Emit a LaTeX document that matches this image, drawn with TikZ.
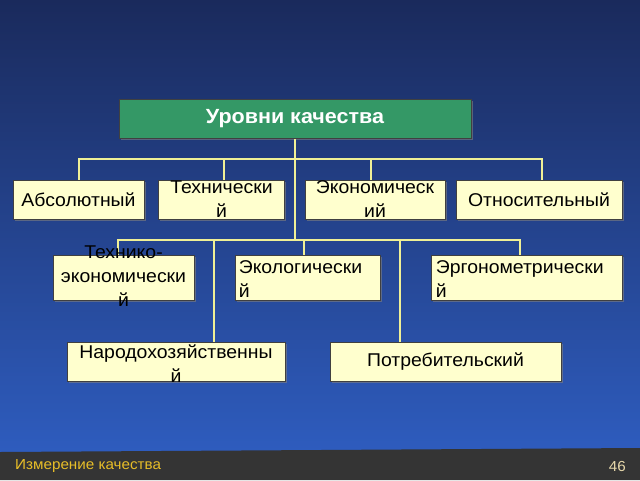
\documentclass[tikz,border=0pt]{standalone}
\usepackage{fontspec}
\setmainfont{Liberation Sans}[FakeStretch=1.05]
\usetikzlibrary{shadows}
\definecolor{bgtop}{RGB}{26,42,92}
\definecolor{bgmid}{RGB}{32,62,130}
\definecolor{bgbot}{RGB}{46,92,190}
\definecolor{footgray}{RGB}{52,52,52}
\definecolor{footyellow}{RGB}{232,190,40}
\definecolor{footnum}{RGB}{230,215,170}
\definecolor{boxfill}{RGB}{255,255,206}
\definecolor{topfill}{RGB}{52,152,102}
\definecolor{connyellow}{RGB}{240,240,150}
\tikzset{
  box/.style={draw=black!75, line width=0.8pt, fill=boxfill, inner sep=0pt,
    drop shadow={shadow xshift=1.5pt, shadow yshift=-1.5pt, opacity=0.6}},
  topbox/.style={draw=black!75, line width=0.8pt, fill=topfill, inner sep=0pt,
    drop shadow={shadow xshift=1.5pt, shadow yshift=-1.5pt, opacity=0.6}},
  txt/.style={font=\fontsize{18.5}{24}\selectfont, text=black, inner sep=0pt},
  conn/.style={draw=connyellow, line width=2.2pt}
}
\begin{document}
\begin{tikzpicture}[x=1pt,y=-1pt]
\useasboundingbox (0,0) rectangle (640,480);
\shade[top color=bgtop, middle color=bgmid, bottom color=bgbot] (0,0) rectangle (640,452);
\fill[footgray] (0,452) -- (640,448) -- (640,480) -- (0,480) -- cycle;

% junction coordinates
\coordinate (h1) at (295,159);
\coordinate (h2) at (295,240);

% boxes
\node[topbox, minimum width=352pt, minimum height=39pt] (top) at (295,119) {};
\node[box, minimum width=131pt, minimum height=39pt] (abs) at (78.5,199.5) {};
\node[box, minimum width=126pt, minimum height=39pt] (tech) at (221.5,199.5) {};
\node[box, minimum width=140pt, minimum height=39pt] (econ) at (375,199.5) {};
\node[box, minimum width=166pt, minimum height=39pt] (rel) at (539,199.5) {};
\node[box, minimum width=141pt, minimum height=45pt] (te) at (123.5,277.5) {};
\node[box, minimum width=145pt, minimum height=45pt] (eco) at (307.5,277.5) {};
\node[box, minimum width=191pt, minimum height=45pt] (erg) at (526.5,277.5) {};
\node[box, minimum width=218pt, minimum height=39pt] (nar) at (176,361.5) {};
\node[box, minimum width=231pt, minimum height=39pt] (potr) at (445.5,361.5) {};

% connectors
\draw[conn] (top.south) -- (h2);
\draw[conn] ([xshift=0.5pt]abs.north) |- (h1) -| ([xshift=3pt]rel.north);
\draw[conn] ([xshift=2.5pt]tech.north) -- ([xshift=2.5pt]tech.north |- h1);
\draw[conn] ([xshift=-4pt]econ.north) -- ([xshift=-4pt]econ.north |- h1);
\draw[conn] ([xshift=-5.5pt]te.north) |- (h2) -| ([xshift=-6.5pt]erg.north);
\draw[conn] ([xshift=-3.5pt]eco.north) -- ([xshift=-3.5pt]eco.north |- h2);
\draw[conn] ([xshift=38pt]nar.north) -- ([xshift=38pt]nar.north |- h2);
\draw[conn] ([xshift=-45.5pt]potr.north) -- ([xshift=-45.5pt]potr.north |- h2);

% texts
\node[font=\fontsize{20.5}{24}\selectfont\bfseries, text=white, inner sep=0pt] (top-t) at (top.center) {Уровни качества};
\node[txt] (abs-t) at (abs.center) {Абсолютный};
\node[txt, align=center] (tech-t) at (tech.center) {Технически\\й};
\node[txt, align=center] (econ-t) at (econ.center) {Экономическ\\ий};
\node[txt] (rel-t) at (rel.center) {Относительный};
\node[txt, align=center] (te-t) at ([yshift=1pt]te.center) {Технико-\\экономически\\й};
\node[txt, align=left, anchor=west] (eco-t) at ([xshift=4pt,yshift=-2pt]eco.west) {Экологически\\й};
\node[txt, align=left, anchor=west] (erg-t) at ([xshift=5pt,yshift=-2pt]erg.west) {Эргонометрически\\й};
\node[txt, align=center] (nar-t) at ([yshift=-2pt]nar.center) {Народохозяйственны\\й};
\node[txt] (potr-t) at (potr.center) {Потребительский};

% footer
\node[anchor=west, text=footyellow, font=\fontsize{14.5}{16}\selectfont, inner sep=0pt] (foot-t) at (15,466) {Измерение качества};
\node[anchor=east, text=footnum, font=\fontsize{14.5}{16}\selectfont, inner sep=0pt] (foot-n) at (626,467) {46};
\end{tikzpicture}
\end{document}
